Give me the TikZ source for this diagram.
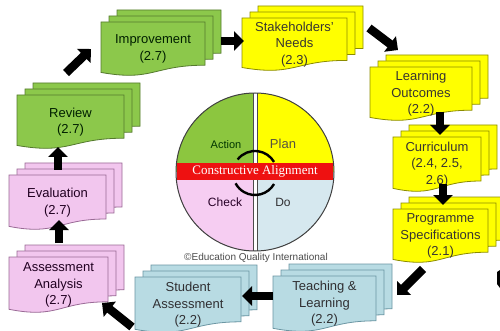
\documentclass[tikz,border=0pt]{standalone}
\usepackage{fontspec}
\setmainfont{Liberation Sans}
\newfontfamily\serifcm{Liberation Serif}
\usetikzlibrary{arrows.meta}

\definecolor{dg}{HTML}{8CC84B}
\definecolor{dgb}{HTML}{557A2E}
\definecolor{dy}{HTML}{FFFF00}
\definecolor{dyb}{HTML}{8C8C00}
\definecolor{dp}{HTML}{F2C6EE}
\definecolor{dpb}{HTML}{9A6A96}
\definecolor{db}{HTML}{B8DBE3}
\definecolor{dbb}{HTML}{6B96A3}
\definecolor{qg}{HTML}{8CC63F}
\definecolor{qy}{HTML}{FFFF00}
\definecolor{qp}{HTML}{F6CDF2}
\definecolor{qb}{HTML}{D6E8EF}
\definecolor{cred}{HTML}{EE1111}

\tikzset{
  docg/.style={fill=dg, draw=dgb, line width=0.8pt},
  docy/.style={fill=dy, draw=dyb, line width=0.8pt},
  docp/.style={fill=dp, draw=dpb, line width=0.8pt},
  docb/.style={fill=db, draw=dbb, line width=0.8pt},
  txtg/.style={text=black!80!green!60!black},
  txty/.style={text=black!80!yellow!50!black},
  txtp/.style={text=black!75!violet},
  txtb/.style={text=black!80!cyan!40!black},
  doctext/.style={align=center, font=\fontsize{13}{16.5}\selectfont, inner sep=0pt},
  blockarrow/.style={line width=8.5pt, draw=black, -{Triangle[length=10pt,width=19pt]}},
  qlabel/.style={font=\fontsize{12}{14}\selectfont, inner sep=0pt},
  pdcaarc/.style={black, line width=2.4pt},
}

\newcommand\docshape[4]{({#1},{#2}) -- ({#1+#3},{#2}) -- ({#1+#3},{#2+0.8*#4})
  .. controls ({#1+0.5*#3},{#2+0.8*#4}) and ({#1+0.5*#3},{#2+1.107*#4}) .. ({#1},{#2+0.934*#4}) -- cycle}

% name, x, y, w, h, kind, text
\newcommand\mdoc[7]{%
  \foreach \k in {2,1,0}{
    \filldraw[doc#6] \docshape{#2+8*\k}{#3-6*\k}{#4}{#5};
  }
  \node[doctext, txt#6] (#1) at ({#2+#4/2},{#3+#5/2}) {#7};
}

\begin{document}
\begin{tikzpicture}[x=1pt,y=-1pt]
\clip (0,0) rectangle (500,331);
\fill[white] (0,0) rectangle (500,331);

% documents
\mdoc{imp}{101}{22}{104}{54}{g}{Improvement\\(2.7)}
\mdoc{rev}{17}{95}{107}{54}{g}{Review\\(2.7)}
\mdoc{stk}{242}{18}{105}{53}{y}{Stakeholders’\\Needs\\(2.3)}
\mdoc{lo}{370}{67}{102}{54}{y}{Learning\\Outcomes\\(2.2)}
\mdoc{cur}{393}{137}{88}{55}{y}{Curriculum\\(2.4, 2.5,\\2.6)}
\mdoc{prog}{393}{209}{95}{54}{y}{Programme\\Specifications\\(2.1)}
\mdoc{teach}{273}{276}{103}{56}{b}{Teaching \&\\Learning\\(2.2)}
\mdoc{stud}{135}{277}{106}{56}{b}{Student\\Assessment\\(2.2)}
\mdoc{aa}{9}{257}{99}{56}{p}{Assessment\\Analysis\\(2.7)}
\mdoc{eval}{9}{175}{97}{55}{p}{Evaluation\\(2.7)}

% PDCA circle
\node[circle, minimum size=158pt, inner sep=0pt] (pdca) at (255,172) {};
\begin{scope}
  \clip (255,172) circle (79);
  \fill[qg] (170,85) rectangle (253,172);
  \fill[qy] (257,85) rectangle (340,172);
  \fill[qp] (170,172) rectangle (253,260);
  \fill[qb] (257,172) rectangle (340,260);
  \draw[black!70, line width=0.7pt] (253,85) -- (253,260);
  \draw[black!70, line width=0.7pt] (257,85) -- (257,260);
\end{scope}
\draw[black!75, line width=1pt] (255,172) circle (79);
\fill[cred] (177,163) rectangle (333,180);
\node[font=\serifcm\fontsize{13}{15}\selectfont, text=white, inner sep=0pt] (ca) at (255,171.5) {Constructive Alignment};
\draw[pdcaarc] ([shift={(218:22)}]255,173) arc[start angle=218, end angle=330, radius=22];
\draw[pdcaarc] ([shift={(30:22)}]255,173) arc[start angle=30, end angle=152, radius=22];

\node[qlabel, font=\fontsize{11}{13}\selectfont, text=black!70!green!70!black] (act) at (226,145) {Action};
\node[qlabel, font=\fontsize{13}{15}\selectfont, text=black!60!yellow!60!black] (plan) at (283,144) {Plan};
\node[qlabel, text=black!70!violet] (chk) at (225,202) {Check};
\node[qlabel, text=black!80!cyan!40!black] (do) at (283,202) {Do};

\node[font=\fontsize{10}{12}\selectfont, text=black!70, inner sep=0pt] (copy) at (256,258) {©Education Quality International};

% arrows
\coordinate (a1s) at (66,73);   \coordinate (a1e) at (91,49);
\coordinate (a2s) at (221,41);  \coordinate (a2e) at (244,41);
\coordinate (a3s) at (369,28);  \coordinate (a3e) at (398,50);
\coordinate (a4s) at (440,112); \coordinate (a4e) at (440,135);
\coordinate (a5s) at (443,184); \coordinate (a5e) at (443,205);
\coordinate (a6s) at (423,269); \coordinate (a6e) at (397,295);
\coordinate (a7s) at (273,296); \coordinate (a7e) at (242,296);
\coordinate (a8s) at (132,327); \coordinate (a8e) at (102,303);
\coordinate (a9s) at (59,243);  \coordinate (a9e) at (59,220);
\coordinate (a10s) at (58,170); \coordinate (a10e) at (58,147);
\draw[blockarrow] (a1s) -- (a1e);
\draw[blockarrow] (a2s) -- (a2e);
\draw[blockarrow] (a3s) -- (a3e);
\draw[blockarrow] (a4s) -- (a4e);
\draw[blockarrow] (a5s) -- (a5e);
\draw[blockarrow] (a6s) -- (a6e);
\draw[blockarrow] (a7s) -- (a7e);
\draw[blockarrow] (a8s) -- (a8e);
\draw[blockarrow] (a9s) -- (a9e);
\draw[blockarrow] (a10s) -- (a10e);
\fill[black] (497,272) -- (500,270) -- (500,288) -- (497,284) -- cycle;
\end{tikzpicture}
\end{document}
